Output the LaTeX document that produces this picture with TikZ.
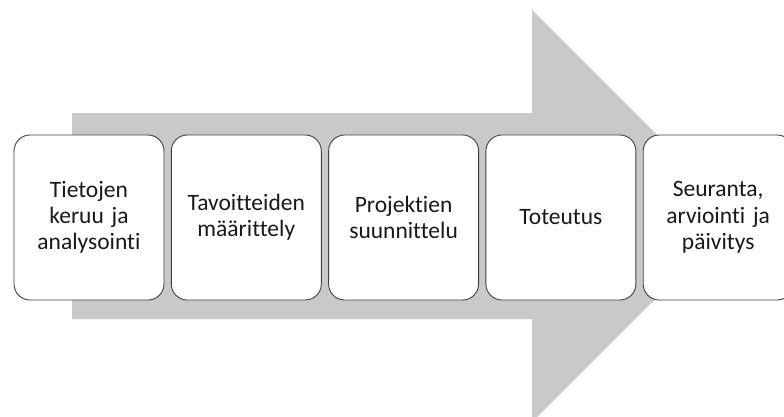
\documentclass[tikz,border=0pt]{standalone}
\usepackage{fontspec}
\setmainfont{Carlito}[Ligatures=NoCommon]
\usepackage{tikz}
\definecolor{flechegris}{RGB}{201,201,201}
\definecolor{bordgris}{RGB}{64,64,64}
\tikzstyle{etape}=[rectangle,rounded corners=16pt,draw=bordgris,line width=0.9pt,fill=white,minimum width=150pt,minimum height=165pt,text width=146pt,align=center,inner sep=0pt,font=\fontsize{23.5}{26.3}\selectfont,text=black!90]
\tikzstyle{fleche} = [fill=flechegris,draw=none]

\begin{document}
\begin{tikzpicture}[x=1pt,y=-1pt]
    \useasboundingbox (0,0) rectangle (784,416);
    % fleche
    \path[fleche] (72,113) -- (532,113) -- (532,10) -- (738,216) -- (532,422) -- (532,319) -- (72,319) -- cycle;
    % etapes
    \foreach \pos/\name/\texte in {{(89,217.5)/tieto/{Tietojen\\keruu ja\\analysointi}}, {(246.3,217.5)/tavoite/{Tavoitteiden\\määrittely}}, {(403.6,217.5)/projekti/{Projektien\\suunnittelu}}, {(560.9,217.5)/toteutus/{Toteutus}}, {(718.2,217.5)/seuranta/{Seuranta,\\arviointi ja\\päivitys}}}
        \node[etape] (\name) at \pos {\texte};
\end{tikzpicture}
\end{document}
